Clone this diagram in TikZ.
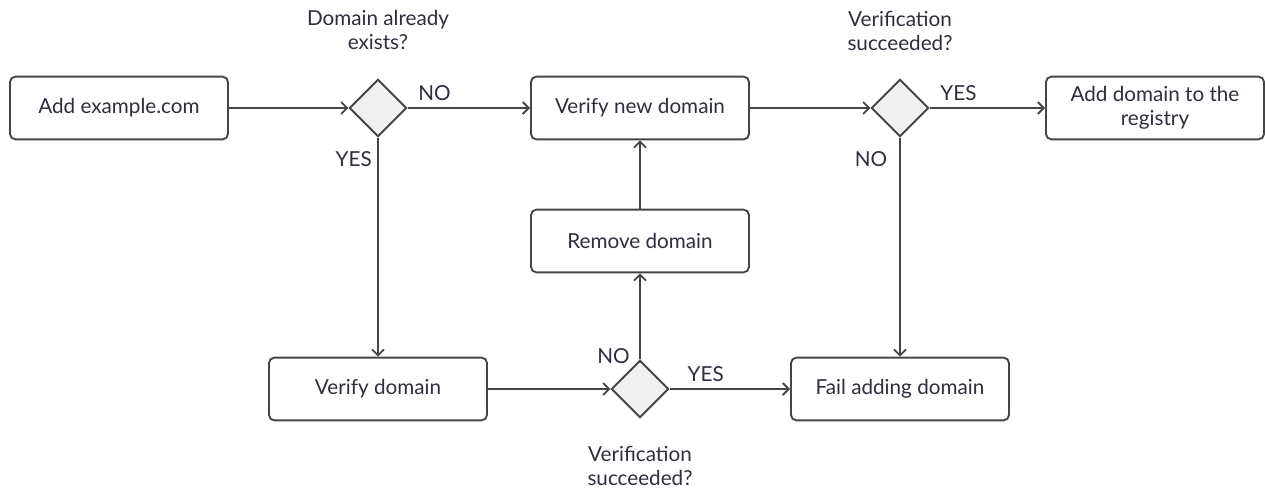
\documentclass[tikz,border=0pt]{standalone}
\usepackage{fontspec}
\setmainfont{Lato}
\usetikzlibrary{arrows.meta,shapes.geometric}
\definecolor{ln}{HTML}{454545}
\definecolor{txt}{HTML}{2E2E3C}
\definecolor{dfill}{HTML}{F0F0F0}

\begin{document}
\begin{tikzpicture}[x=0.75pt,y=-0.75pt,
        font=\fontsize{15.5}{18}\selectfont,text=txt,
        box/.style={draw=ln,line width=1.4pt,rounded corners=4pt,
            minimum width=163.5pt,minimum height=47pt,align=center},
        dec/.style={draw=ln,fill=dfill,line width=1.4pt,diamond,aspect=1,
            minimum width=43pt,minimum height=43pt,inner sep=0pt},
        lbl/.style={inner sep=1pt,align=center},
        flow/.style={draw=ln,line width=1.4pt,-{Straight Barb[length=4.5pt,width=9pt]}}]

    \useasboundingbox (0,0) rectangle (1265,490);

    % top row
    \node[box] (add) at (119,108) {Add example.com};
    \node[dec] (exists) at (378,108) {};
    \node[box] (vnew) at (640,108) {Verify new domain};
    \node[dec] (ok1) at (900,108) {};
    \node[box] (reg) at (1155,108) {Add domain to the\\registry};

    % middle and bottom rows
    \node[box] (rem) at (640,241) {Remove domain};
    \node[box] (vdom) at (378,389) {Verify domain};
    \node[dec] (ok2) at (640,389) {};
    \node[box] (fail) at (900,389) {Fail adding domain};

    % question texts
    \node[lbl] (qexists) at (378,30) {Domain already\\exists?};
    \node[lbl] (qok1) at (900,31) {Verification\\succeeded?};
    \node[lbl] (qok2) at (640,466) {Verification\\succeeded?};

    \draw[flow] (add) -- (exists);
    \draw[flow] (exists) -- node[lbl,above,pos=0.22,yshift=4pt] (no1) {NO} (vnew);
    \draw[flow] (exists) -- node[lbl,left,pos=0.1,xshift=-3pt] (yes1) {YES} (vdom);
    \draw[flow] (vnew) -- (ok1);
    \draw[flow] (ok1) -- node[lbl,above,pos=0.25,yshift=4pt] (yes2) {YES} (reg);
    \draw[flow] (ok1) -- node[lbl,left,pos=0.1,xshift=-8pt] (no2) {NO} (fail);
    \draw[flow] (vdom) -- (ok2);
    \draw[flow] (ok2) -- node[lbl,above,pos=0.3,yshift=4pt] (yes3) {YES} (fail);
    \draw[flow] (ok2) -- node[lbl,left,pos=0.04,xshift=-6pt] (no3) {NO} (rem);
    \draw[flow] (rem) -- (vnew);
\end{tikzpicture}
\end{document}
